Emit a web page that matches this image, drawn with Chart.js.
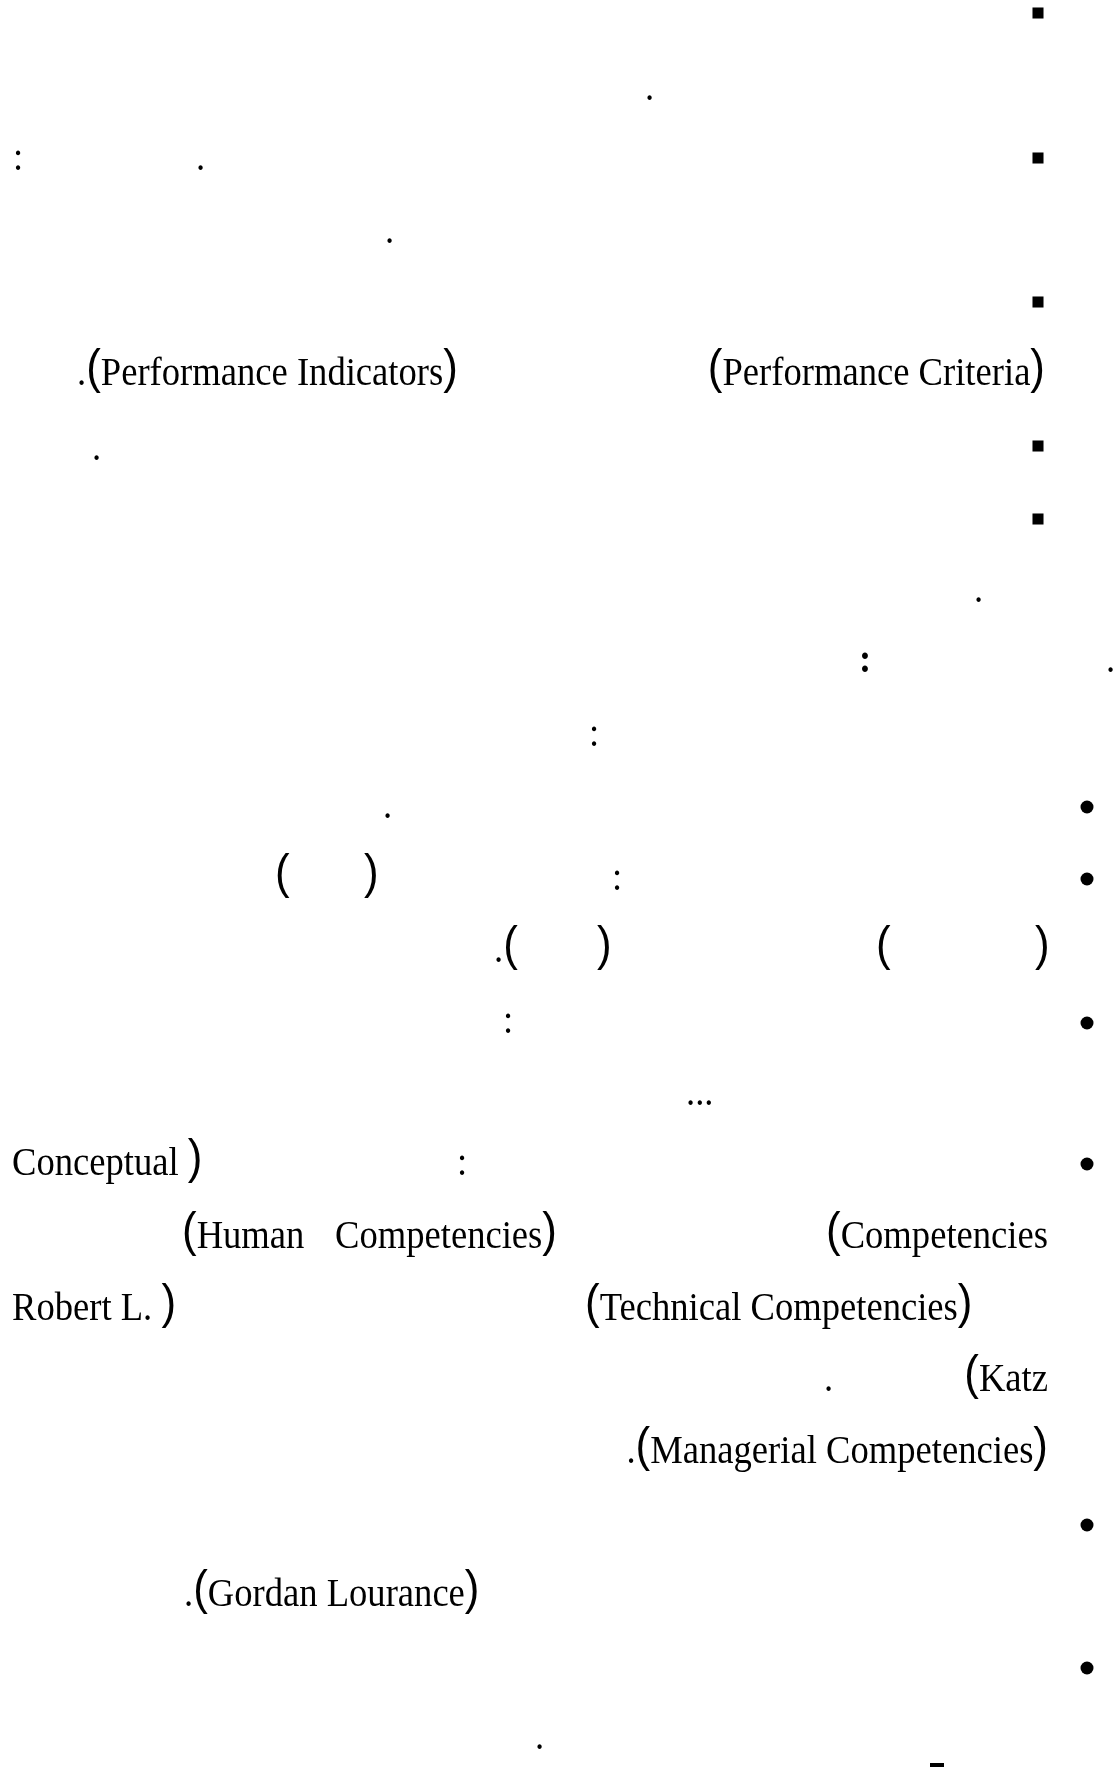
<!DOCTYPE html>
<html>
<head>
<meta charset="utf-8">
<title>page</title>
<script src="https://cdn.jsdelivr.net/npm/chart.js@4.4.1/dist/chart.umd.min.js"></script>
<style>
  html, body { margin: 0; padding: 0; background: #ffffff; }
  canvas { display: block; }
</style>
</head>
<body>
<canvas id="page" width="1118" height="1776"></canvas>
<script>
// page coordinates (x across, y down, baseline for text)
var squareBulletX = 1038;
var squareBulletY = [13, 158, 302, 446, 519];
var roundBulletX = 1087;
var roundBulletY = [807, 879, 1023, 1164, 1525, 1668];
var dashX = [937];
var dashY = [1765];

// the text runs that survive on the page (latin words and punctuation)
var runText = [
  ".", ":", ".", ".",
  "(Performance Criteria)", ".(Performance Indicators)",
  ".", ".",
  ":", ".", ":", ".",
  ":", "(", ")",
  ".(", ")", "(", ")",
  ":", "...",
  ":", "Conceptual )",
  "(Competencies", "(Human", "Competencies)",
  "Robert L. )", "(Technical Competencies)",
  "(Katz", ".",
  ".(Managerial Competencies)",
  ".(Gordan Lourance)",
  "."
];
var runX = [
  645, 13, 196, 385,
  1045, 77,
  92, 974,
  859, 1106, 589, 383,
  612, 275, 364,
  494, 597, 876, 1035,
  503, 686,
  457, 12,
  1048, 182, 335,
  12, 585,
  1048, 824,
  1048,
  184,
  535
];
var runY = [
  100, 170, 170, 243,
  385, 385,
  460, 602,
  672, 672, 746, 818,
  890, 890, 890,
  962, 962, 962, 962,
  1033, 1105,
  1175, 1175,
  1248, 1248, 1248,
  1320, 1320,
  1391, 1391,
  1463,
  1606,
  1749
];
// runs anchored at their right end
var rightAnchored = [4, 23, 28, 30];
// the heavy colon
var boldRuns = [8];

var SX = 0.915;
var FONT = '40px "Liberation Serif", "Times New Roman", serif';
var BOLD = 'bold 40px "Liberation Serif", "Times New Roman", serif';
// the brackets come from the page's other (arabic) face: thin and tall
var PAREN = '48px "Liberation Sans", Arial, sans-serif';

function drawRun(ctx, str, px, py, right, bold) {
  // split into paren / non paren pieces
  var segs = [];
  for (var i = 0; i < str.length; i++) {
    var p = str[i] === '(' || str[i] === ')';
    if (segs.length && segs[segs.length - 1].p === p) segs[segs.length - 1].s += str[i];
    else segs.push({ s: str[i], p: p });
  }
  var total = 0;
  segs.forEach(function (g) {
    ctx.font = g.p ? PAREN : (bold ? BOLD : FONT);
    g.w = ctx.measureText(g.s).width * SX;
    total += g.w;
  });
  var x = right ? px - total : px;
  segs.forEach(function (g) {
    ctx.save();
    ctx.font = g.p ? PAREN : (bold ? BOLD : FONT);
    ctx.translate(x, g.p ? py - 2 : py);
    ctx.scale(SX, 1);
    ctx.fillText(g.s, 0, 0);
    ctx.restore();
    x += g.w;
  });
}

var textPlugin = {
  id: 'pageText',
  afterDatasetsDraw: function (chart) {
    var ctx = chart.ctx;
    var xs = chart.scales.x, ys = chart.scales.y;
    ctx.save();
    ctx.fillStyle = '#000000';
    ctx.textBaseline = 'alphabetic';
    ctx.textAlign = 'left';
    for (var i = 0; i < runText.length; i++) {
      drawRun(ctx, runText[i], xs.getPixelForValue(runX[i]), ys.getPixelForValue(runY[i]),
        rightAnchored.indexOf(i) >= 0, boldRuns.indexOf(i) >= 0);
    }
    ctx.restore();
  }
};

var config = {
  type: 'scatter',
  data: {
    datasets: [
      {
        data: squareBulletY.map(function (y) { return { x: squareBulletX, y: y }; }),
        pointStyle: 'rect',
        pointRadius: 7.8,
        backgroundColor: '#000000',
        borderWidth: 0
      },
      {
        data: roundBulletY.map(function (y) { return { x: roundBulletX, y: y }; }),
        pointStyle: 'circle',
        pointRadius: 6.5,
        backgroundColor: '#000000',
        borderWidth: 0
      },
      {
        data: dashX.map(function (x, i) { return { x: x, y: dashY[i] }; }),
        pointStyle: 'line',
        pointRadius: 7,
        borderColor: '#000000',
        borderWidth: 4
      }
    ]
  },
  options: {
    responsive: false,
    animation: false,
    devicePixelRatio: 1,
    layout: { padding: 0, autoPadding: false },
    plugins: { legend: { display: false }, tooltip: { enabled: false } },
    scales: {
      x: { type: 'linear', min: 0, max: 1118, display: false },
      y: { type: 'linear', min: 0, max: 1776, reverse: true, display: false }
    }
  },
  plugins: [textPlugin]
};

new Chart(document.getElementById('page'), config);
</script>
</body>
</html>
